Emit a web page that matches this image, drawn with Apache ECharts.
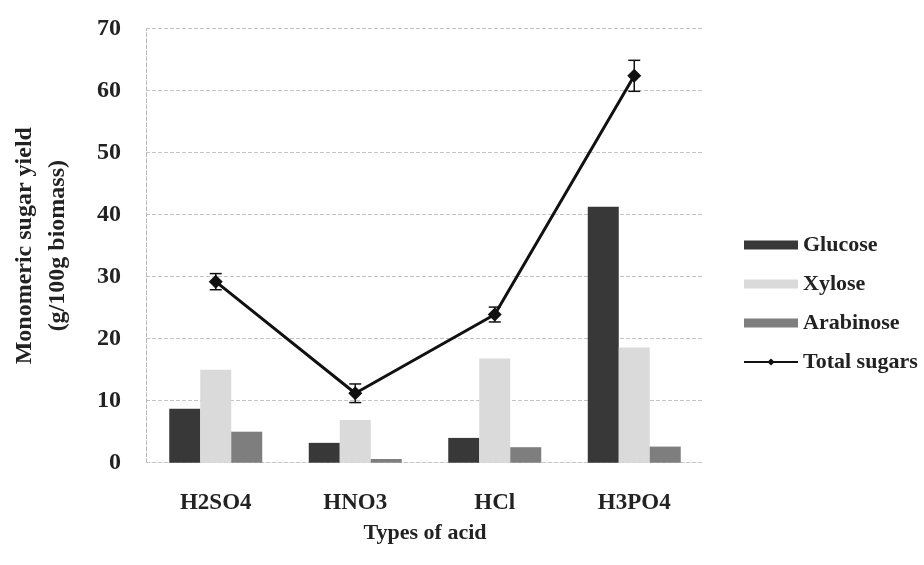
<!DOCTYPE html>
<html>
<head>
<meta charset="utf-8">
<script src="https://cdn.jsdelivr.net/npm/echarts@6/dist/echarts.min.js"></script>
<style>
html,body{margin:0;padding:0;background:#fff;}
#chart{width:924px;height:565px;}
</style>
</head>
<body>
<div id="chart"></div>
<script>
var categories = ['H2SO4', 'HNO3', 'HCl', 'H3PO4'];
var glucose = [8.7, 3.2, 4.0, 41.3];
var xylose = [15.0, 6.9, 16.8, 18.6];
var arabinose = [5.0, 0.6, 2.5, 2.6];
var totalSugars = [29.2, 11.2, 23.9, 62.4];
var totalError = [1.3, 1.5, 1.2, 2.5];
var yTicks = [0, 10, 20, 30, 40, 50, 60, 70];

var serif = '"Liberation Serif", "DejaVu Serif", serif';

var errData = categories.map(function (c, i) {
  return [i, totalSugars[i] - totalError[i], totalSugars[i] + totalError[i]];
});

var chart = echarts.init(document.getElementById('chart'), null, {renderer: 'canvas'});
chart.setOption({
  backgroundColor: '#ffffff',
  animation: false,
  grid: {left: 141, right: 220, top: 28.7, bottom: 102.3, containLabel: false},
  legend: {
    data: [
      {name: 'Glucose', icon: 'rect'},
      {name: 'Xylose', icon: 'rect'},
      {name: 'Arabinose', icon: 'rect'},
      {name: 'Total sugars'}
    ],
    orient: 'vertical',
    left: 738,
    top: 229,
    itemWidth: 54,
    itemHeight: 9,
    itemGap: 17,
    textStyle: {fontFamily: serif, fontSize: 22, fontWeight: 'bold', color: '#222'}
  },
  xAxis: {
    type: 'category',
    data: categories,
    name: 'Types of acid',
    nameLocation: 'middle',
    nameGap: 60,
    nameTextStyle: {fontFamily: serif, fontSize: 22, fontWeight: 'bold', color: '#222'},
    axisLine: {show: true, lineStyle: {color: '#c8c8c8', type: 'dashed'}},
    axisTick: {show: false},
    axisLabel: {fontFamily: serif, fontSize: 23, fontWeight: 'bold', color: '#222', margin: 29}
  },
  yAxis: {
    type: 'value',
    min: 0,
    max: 70,
    interval: 10,
    name: 'Monomeric sugar yield\n(g/100g biomass)',
    nameLocation: 'middle',
    nameGap: 72,
    nameTextStyle: {fontFamily: serif, fontSize: 24, fontWeight: 'bold', color: '#222', lineHeight: 33},
    axisLine: {show: true, lineStyle: {color: '#b8b8b8', type: 'dashed'}},
    axisTick: {show: false},
    splitLine: {show: true, lineStyle: {color: '#c4c4c4', type: 'dashed'}},
    axisLabel: {
      fontFamily: serif, fontSize: 24, fontWeight: 'bold', color: '#222', margin: 25,
      formatter: function (v) { return yTicks.indexOf(v) >= 0 ? String(v) : ''; }
    }
  },
  series: [
    {name: 'Glucose', type: 'bar', data: glucose, barWidth: 31, barGap: '0%',
     itemStyle: {color: '#383838'}},
    {name: 'Xylose', type: 'bar', data: xylose, barWidth: 31, barGap: '0%',
     itemStyle: {color: '#dadada'}},
    {name: 'Arabinose', type: 'bar', data: arabinose, barWidth: 31, barGap: '0%',
     itemStyle: {color: '#7e7e7e'}},
    {name: 'Total sugars', type: 'line', data: totalSugars,
     symbol: 'diamond', symbolSize: 14,
     lineStyle: {color: '#111', width: 3},
     itemStyle: {color: '#111'}, z: 5},
    {name: 'err', type: 'custom', data: errData, z: 6,
     renderItem: function (params, api) {
       var x = api.value(0);
       var lo = api.coord([x, api.value(1)]);
       var hi = api.coord([x, api.value(2)]);
       var w = 6;
       var st = {stroke: '#111', lineWidth: 1.5};
       return {type: 'group', children: [
         {type: 'line', shape: {x1: lo[0], y1: lo[1], x2: hi[0], y2: hi[1]}, style: st},
         {type: 'line', shape: {x1: lo[0] - w, y1: lo[1], x2: lo[0] + w, y2: lo[1]}, style: st},
         {type: 'line', shape: {x1: hi[0] - w, y1: hi[1], x2: hi[0] + w, y2: hi[1]}, style: st}
       ]};
     }}
  ]
});
</script>
</body>
</html>
